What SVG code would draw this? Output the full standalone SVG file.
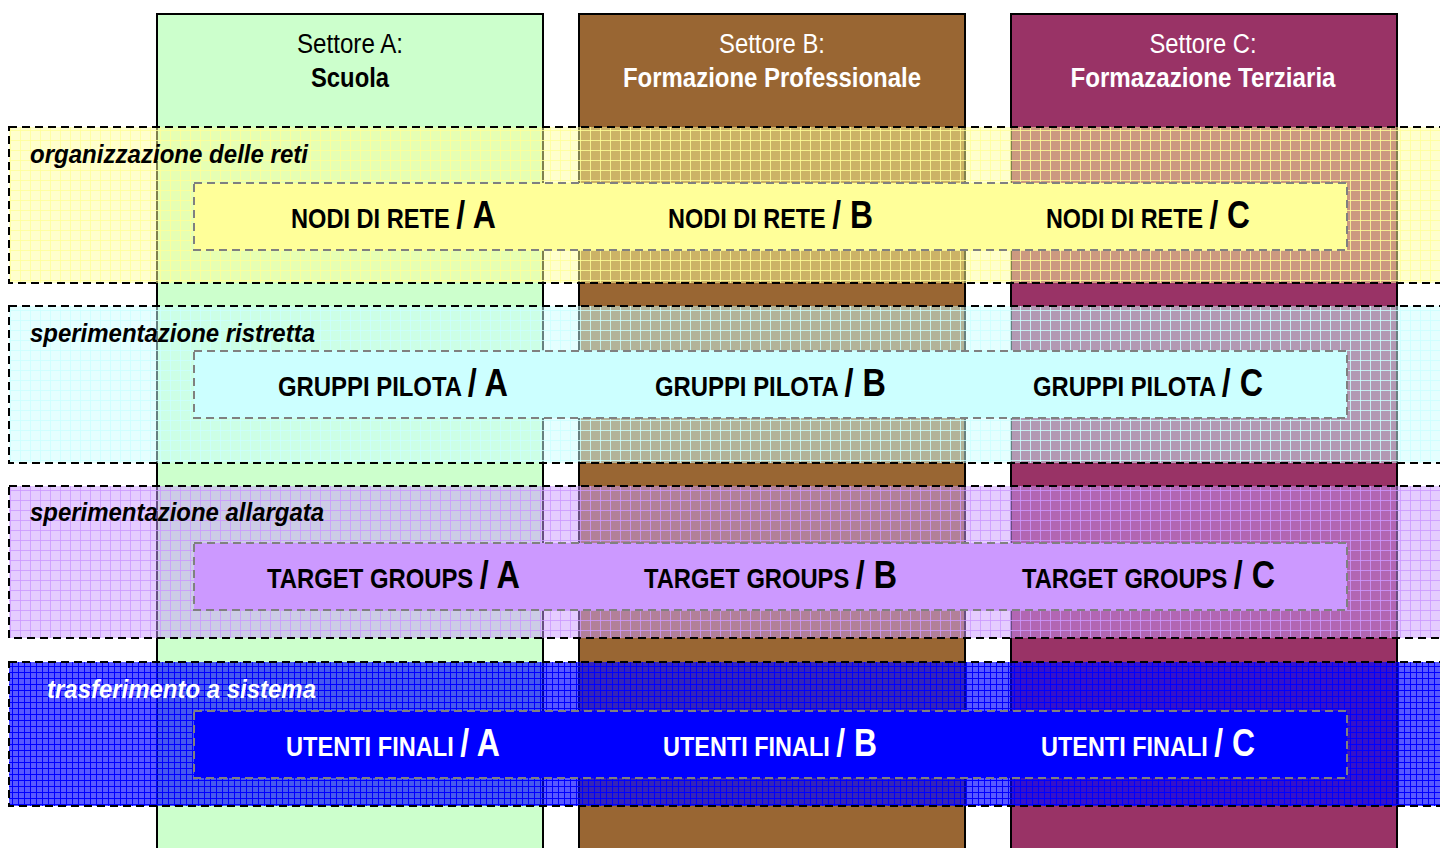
<svg xmlns="http://www.w3.org/2000/svg" width="1440" height="848" viewBox="0 0 1440 848">
<style>
text{font-family:"Liberation Sans Narrow","Liberation Sans",Arial,sans-serif;}
.col{stroke:#000;stroke-width:2;}
.band{stroke:#000;stroke-width:2;stroke-dasharray:8 5;}
.inner{stroke:#808080;stroke-width:2;stroke-dasharray:8 5;}
.hdr{font-size:27px;text-anchor:middle;}
.hdrb{font-size:27px;font-weight:bold;text-anchor:middle;}
.bl{font-size:26px;font-weight:bold;font-style:italic;}
.lbl{font-size:28px;font-weight:bold;}
.big{font-size:38px;font-weight:bold;}
.w{fill:#fff;}
</style>
<defs>
<pattern id="pY" width="10" height="10" patternUnits="userSpaceOnUse">
<rect width="10" height="10" fill="#FFFF99" fill-opacity="0.5"/>
<path d="M0 0.5H10M0.5 0V10" stroke="#FFFF99" stroke-width="1" stroke-opacity="0.8"/>
</pattern>
<pattern id="pC" width="10" height="10" patternUnits="userSpaceOnUse">
<rect width="10" height="10" fill="#CCFFFF" fill-opacity="0.5"/>
<path d="M0 0.5H10M0.5 0V10" stroke="#CCFFFF" stroke-width="1" stroke-opacity="0.8"/>
</pattern>
<pattern id="pP" width="10" height="10" patternUnits="userSpaceOnUse">
<rect width="10" height="10" fill="#CC99FF" fill-opacity="0.5"/>
<path d="M0 0.5H10M0.5 0V10" stroke="#CC99FF" stroke-width="1" stroke-opacity="0.8"/>
</pattern>
<pattern id="pB" width="6" height="6" patternUnits="userSpaceOnUse">
<rect width="6" height="6" fill="#0000FF" fill-opacity="0.65"/>
<path d="M0 0.5H6M0.5 0V6" stroke="#0000FF" stroke-width="1"/>
</pattern>
</defs>
<rect width="1440" height="848" fill="#fff"/>

<g id="colA"><rect class="col" x="157" y="14" width="386" height="846" fill="#CCFFCC"/>
<text class="hdr" x="350" y="53" textLength="106" lengthAdjust="spacingAndGlyphs">Settore A:</text>
<text class="hdrb" x="350" y="87" textLength="78" lengthAdjust="spacingAndGlyphs">Scuola</text></g>
<g id="colB"><rect class="col" x="579" y="14" width="386" height="846" fill="#996633"/>
<text class="hdr w" x="772" y="53" textLength="106" lengthAdjust="spacingAndGlyphs">Settore B:</text>
<text class="hdrb w" x="772" y="87" textLength="298" lengthAdjust="spacingAndGlyphs">Formazione Professionale</text></g>
<g id="colC"><rect class="col" x="1011" y="14" width="386" height="846" fill="#993366"/>
<text class="hdr w" x="1203" y="53" textLength="107" lengthAdjust="spacingAndGlyphs">Settore C:</text>
<text class="hdrb w" x="1203" y="87" textLength="265" lengthAdjust="spacingAndGlyphs">Formazazione Terziaria</text></g>

<g id="band1"><rect class="band" x="9" y="127" width="1445" height="156" fill="url(#pY)"/>
<text class="bl" x="30" y="163" textLength="278" lengthAdjust="spacingAndGlyphs">organizzazione delle reti</text></g>
<g id="band2"><rect class="band" x="9" y="306" width="1445" height="157" fill="url(#pC)"/>
<text class="bl" x="30" y="342" textLength="285" lengthAdjust="spacingAndGlyphs">sperimentazione ristretta</text></g>
<g id="band3"><rect class="band" x="9" y="486" width="1445" height="152" fill="url(#pP)"/>
<text class="bl" x="30" y="521" textLength="294" lengthAdjust="spacingAndGlyphs">sperimentazione allargata</text></g>
<g id="band4"><rect class="band" x="9" y="662" width="1445" height="144" fill="url(#pB)"/>
<text class="bl w" x="47" y="698" textLength="269" lengthAdjust="spacingAndGlyphs">trasferimento a sistema</text></g>

<g id="row1"><rect class="inner" x="194" y="183" width="1153" height="67" fill="#FFFF99"/>
<text class="lbl" x="291" y="228" textLength="205" lengthAdjust="spacingAndGlyphs">NODI DI RETE <tspan class="big">/ A</tspan></text>
<text class="lbl" x="668" y="228" textLength="205" lengthAdjust="spacingAndGlyphs">NODI DI RETE <tspan class="big">/ B</tspan></text>
<text class="lbl" x="1046" y="228" textLength="204" lengthAdjust="spacingAndGlyphs">NODI DI RETE <tspan class="big">/ C</tspan></text></g>

<g id="row2"><rect class="inner" x="194" y="351" width="1153" height="67" fill="#CCFFFF"/>
<text class="lbl" x="278" y="396" textLength="230" lengthAdjust="spacingAndGlyphs">GRUPPI PILOTA <tspan class="big">/ A</tspan></text>
<text class="lbl" x="655" y="396" textLength="231" lengthAdjust="spacingAndGlyphs">GRUPPI PILOTA <tspan class="big">/ B</tspan></text>
<text class="lbl" x="1033" y="396" textLength="230" lengthAdjust="spacingAndGlyphs">GRUPPI PILOTA <tspan class="big">/ C</tspan></text></g>

<g id="row3"><rect class="inner" x="194" y="543" width="1153" height="67" fill="#CC99FF"/>
<text class="lbl" x="267" y="588" textLength="253" lengthAdjust="spacingAndGlyphs">TARGET GROUPS <tspan class="big">/ A</tspan></text>
<text class="lbl" x="644" y="588" textLength="253" lengthAdjust="spacingAndGlyphs">TARGET GROUPS <tspan class="big">/ B</tspan></text>
<text class="lbl" x="1022" y="588" textLength="253" lengthAdjust="spacingAndGlyphs">TARGET GROUPS <tspan class="big">/ C</tspan></text></g>

<g id="row4"><rect class="inner" x="194" y="711" width="1153" height="67" fill="#0000FF"/>
<text class="lbl w" x="286" y="756" textLength="214" lengthAdjust="spacingAndGlyphs">UTENTI FINALI <tspan class="big">/ A</tspan></text>
<text class="lbl w" x="663" y="756" textLength="214" lengthAdjust="spacingAndGlyphs">UTENTI FINALI <tspan class="big">/ B</tspan></text>
<text class="lbl w" x="1041" y="756" textLength="214" lengthAdjust="spacingAndGlyphs">UTENTI FINALI <tspan class="big">/ C</tspan></text></g>
</svg>
